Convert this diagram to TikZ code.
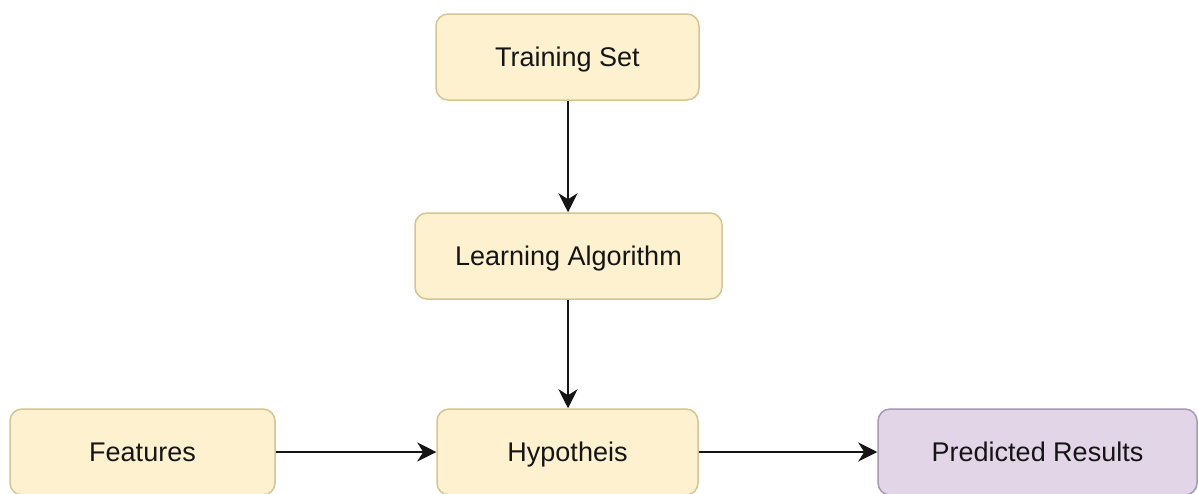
\documentclass[tikz,border=0pt]{standalone}
\usepackage{fontspec}
\setmainfont{Liberation Sans}
\usetikzlibrary{arrows.meta}
\definecolor{yfill}{HTML}{FDF1CF}
\definecolor{ydraw}{HTML}{D4C594}
\definecolor{pfill}{HTML}{E1D5E7}
\definecolor{pdraw}{HTML}{A898B4}
\definecolor{ink}{HTML}{151515}
\tikzset{
  box/.style={rectangle, rounded corners=12pt, line width=1.5pt,
    minimum height=86pt, inner sep=0pt, text=ink,
    text height=19.3pt, text depth=0pt,
    font=\fontsize{27}{32}\selectfont},
  ybox/.style={box, fill=yfill, draw=ydraw},
  pbox/.style={box, fill=pfill, draw=pdraw},
  flow/.style={line width=2pt, draw=ink,
    -{Stealth[length=19pt, width=19pt, inset=6pt]}}
}
\begin{document}
\begin{tikzpicture}[x=1pt, y=-1pt]
\useasboundingbox (0,0) rectangle (1198,493);
\fill[white] (0,0) rectangle (1198,493);

\node[ybox, minimum width=263pt] (train) at (567.5,57) {Training Set};
\node[ybox, minimum width=307pt] (learn) at (568.5,256) {Learning Algorithm};
\node[ybox, minimum width=265pt] (feat) at (142.5,452) {Features};
\node[ybox, minimum width=261pt] (hyp) at (567.5,452) {Hypotheis};
\node[pbox, minimum width=319pt] (pred) at (1037.5,452) {Predicted Results};

\draw[flow] (train.south -| 568,0) -- (learn.north -| 568,0);
\draw[flow] (learn.south -| 568,0) -- (hyp.north -| 568,0);
\draw[flow] (feat) -- (hyp);
\draw[flow] (hyp) -- (pred);
\end{tikzpicture}
\end{document}
